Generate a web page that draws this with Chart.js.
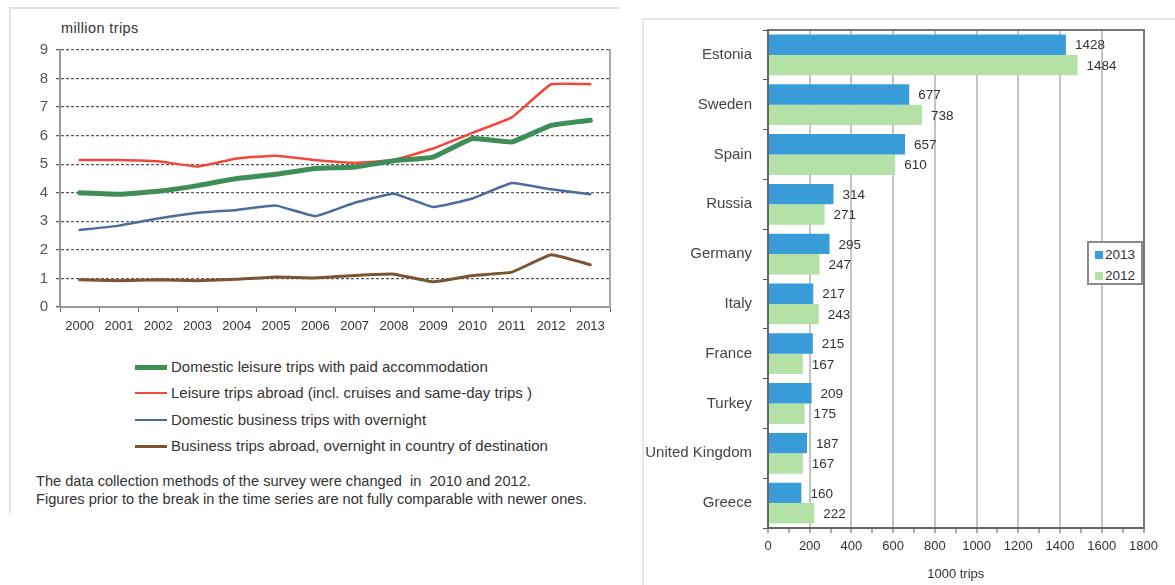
<!DOCTYPE html>
<html><head><meta charset="utf-8">
<script src="https://cdn.jsdelivr.net/npm/chart.js@4.4.1/dist/chart.umd.min.js"></script>
<style>
html,body{margin:0;padding:0;background:#fff}
body{width:1175px;height:585px;overflow:hidden;position:relative;font-family:"Liberation Sans",Arial,sans-serif;color:#333}
.abs{position:absolute}
.lrow{position:absolute;left:0;height:20px;white-space:nowrap;font-size:15px;line-height:20px;color:#333}
.lsw{position:absolute;left:0;top:10px;width:32px}
.ltx{position:absolute;left:36px;top:0}
.r2{position:absolute;left:6px;height:16px;font-size:13.5px;line-height:16px;color:#333;white-space:nowrap}
.r2 i{display:inline-block;width:8px;height:8px;margin-right:2px;vertical-align:0px}
</style></head><body>
<div class="abs" style="left:9px;top:7px;width:609px;height:504px;border-top:2px solid #e2e2e2;border-left:2px solid #e2e2e2"></div>
<div class="abs" style="left:642px;top:18px;width:533px;height:567px;border-top:2px solid #e8e8e8;border-left:2px solid #e8e8e8"></div>
<div id="unitTitle" class="abs" style="left:61px;top:20px;font-size:14.5px;letter-spacing:0.4px;color:#333"></div>
<div class="abs" style="left:0;top:0;width:625px;height:340px"><canvas id="c1"></canvas></div>
<div id="leg1" class="abs" style="left:135px;top:357px;width:480px;height:110px"></div>
<div id="note" class="abs" style="left:36px;top:472px;font-size:14.6px;line-height:18px;color:#333;white-space:nowrap"></div>
<div class="abs" style="left:640px;top:10px;width:535px;height:575px"><canvas id="c2"></canvas></div>
<div id="leg2" class="abs" style="left:1087px;top:241px;width:52px;height:40px;border:2px solid #8a8a8a;background:#fff"></div>
<script>
// ---------- Left chart data ----------
const years = ['2000','2001','2002','2003','2004','2005','2006','2007','2008','2009','2010','2011','2012','2013'];
const domesticLeisure  = [4.00,3.95,4.05,4.25,4.50,4.65,4.85,4.90,5.12,5.25,5.90,5.78,6.36,6.54];
const leisureAbroad    = [5.15,5.15,5.10,4.92,5.20,5.30,5.15,5.05,5.15,5.55,6.10,6.64,7.80,7.80];
const domesticBusiness = [2.70,2.85,3.10,3.30,3.40,3.55,3.18,3.65,3.97,3.50,3.80,4.34,4.12,3.95];
const businessAbroad   = [0.95,0.92,0.95,0.92,0.97,1.05,1.02,1.10,1.15,0.88,1.10,1.22,1.83,1.48];
const seriesNames = [
  'Domestic leisure trips with paid accommodation',
  'Leisure trips abroad (incl. cruises and same-day trips )',
  'Domestic business trips with overnight',
  'Business trips abroad, overnight in country of destination'
];
const seriesColors = ['#3f8e58','#f2483c','#4a6d9e','#7b5430'];
const seriesWidths = [5,2.5,2.5,3];
const yTickValues1 = [0,1,2,3,4,5,6,7,8,9];
const unitLabel = 'million trips';
const noteLines = [
  'The data collection methods of the survey were changed  in  2010 and 2012.',
  'Figures prior to the break in the time series are not fully comparable with newer ones.'
];

// ---------- Right chart data ----------
const countries = ['Estonia','Sweden','Spain','Russia','Germany','Italy','France','Turkey','United Kingdom','Greece'];
const trips2013 = [1428,677,657,314,295,217,215,209,187,160];
const trips2012 = [1484,738,610,271,247,243,167,175,167,222];
const barSeriesNames = ['2013','2012'];
const barColors = ['#389cd8','#b3e1a6'];
const xAxisTitle = '1000 trips';

document.getElementById('unitTitle').textContent = unitLabel;
document.getElementById('note').innerHTML = noteLines.map(t => '<div>' + t.replace(/  /g,' &nbsp;') + '</div>').join('');

// left legend (HTML)
const leg1 = document.getElementById('leg1');
const rowTops = [0, 26, 53, 79];
seriesNames.forEach((n, i) => {
  const r = document.createElement('div');
  r.className = 'lrow';
  r.style.top = rowTops[i] + 'px';
  const sw = document.createElement('div');
  sw.className = 'lsw';
  sw.style.borderTop = seriesWidths[i] + 'px solid ' + seriesColors[i];
  sw.style.marginTop = (-seriesWidths[i] / 2) + 'px';
  const tx = document.createElement('div');
  tx.className = 'ltx';
  tx.textContent = n;
  r.appendChild(sw); r.appendChild(tx);
  leg1.appendChild(r);
});

// right legend (HTML)
const leg2 = document.getElementById('leg2');
barSeriesNames.forEach((n, i) => {
  const r = document.createElement('div');
  r.className = 'r2';
  r.style.top = (4 + i * 21) + 'px';
  r.innerHTML = '<i style="background:' + barColors[i] + '"></i>' + n;
  leg2.appendChild(r);
});

const FONT = '"Liberation Sans", Arial, sans-serif';

new Chart(document.getElementById('c1'), {
  type: 'line',
  data: {
    labels: years,
    datasets: [domesticLeisure, leisureAbroad, domesticBusiness, businessAbroad].map((d, i) => ({
      label: seriesNames[i], data: d, borderColor: seriesColors[i], backgroundColor: seriesColors[i],
      borderWidth: seriesWidths[i], pointRadius: 0, tension: 0.1, fill: false,
      borderCapStyle: 'round', borderJoinStyle: 'round'
    }))
  },
  options: {
    responsive: true, maintainAspectRatio: false, animation: false,
    layout: { padding: { left: 0, right: 15, top: 50, bottom: 0 } },
    plugins: { legend: { display: false }, tooltip: { enabled: false } },
    scales: {
      x: {
        offset: true,
        grid: { offset: true, drawOnChartArea: false, tickLength: 5, color: '#666', lineWidth: 1 },
        border: { color: '#999', width: 2 },
        ticks: { font: { family: FONT, size: 13 }, color: '#333', padding: 7, maxRotation: 0, autoSkip: false },
        afterFit(s) { s.height = 33; }
      },
      y: {
        min: 0, max: 9,
        afterBuildTicks(s) { s.ticks = yTickValues1.map(v => ({ value: v })); },
        ticks: { font: { family: FONT, size: 15 }, color: '#555', padding: 8 },
        grid: { color: '#5a5a5a', lineWidth: 1.3, tickLength: 4, tickColor: '#666' },
        border: { color: '#999', width: 2, dash: [3, 2] },
        afterFit(s) { s.width = 60; }
      },
      y2: {
        position: 'right', display: true,
        grid: { display: false, drawTicks: false },
        ticks: { display: false },
        border: { color: '#aaa', width: 2 },
        afterFit(s) { s.width = 0; }
      }
    }
  }
});

const valueLabels = {
  id: 'valueLabels',
  afterDatasetsDraw(chart) {
    const ctx = chart.ctx;
    ctx.save();
    ctx.font = '13.5px ' + FONT;
    ctx.fillStyle = '#333';
    ctx.textBaseline = 'middle';
    ctx.textAlign = 'left';
    chart.data.datasets.forEach((ds, di) => {
      chart.getDatasetMeta(di).data.forEach((el, j) => {
        ctx.fillText(String(ds.data[j]), el.x + 9, el.y + 1);
      });
    });
    ctx.restore();
  }
};

new Chart(document.getElementById('c2'), {
  type: 'bar',
  data: {
    labels: countries,
    datasets: [
      { label: barSeriesNames[0], data: trips2013, backgroundColor: barColors[0], borderWidth: 0 },
      { label: barSeriesNames[1], data: trips2012, backgroundColor: barColors[1], borderWidth: 0 }
    ]
  },
  options: {
    indexAxis: 'y',
    responsive: true, maintainAspectRatio: false, animation: false,
    categoryPercentage: 0.82, barPercentage: 1.0,
    layout: { padding: { left: 0, right: 31.5, top: 15, bottom: 0 } },
    plugins: { legend: { display: false }, tooltip: { enabled: false } },
    scales: {
      x: {
        min: 0, max: 1800,
        afterBuildTicks(s) { const t = []; for (let v = 0; v <= 1800; v += 100) t.push({ value: v }); s.ticks = t; },
        ticks: {
          autoSkip: false, maxRotation: 0, padding: 6,
          font: { family: FONT, size: 13 }, color: '#333',
          callback: (v) => (v % 200 === 0 ? String(v) : '')
        },
        grid: {
          color: (c) => (c.tick && c.tick.value % 200 === 0 ? '#c4c4c4' : 'rgba(0,0,0,0)'),
          lineWidth: 2, tickColor: '#555', tickWidth: 1, tickLength: 5
        },
        border: { color: '#666', width: 2 },
        title: { display: true, text: xAxisTitle, font: { family: FONT, size: 13 }, color: '#333', padding: { top: 0, bottom: 3 } },
        afterFit(s) { s.height = 57; }
      },
      x2: {
        position: 'top', display: true, min: 0, max: 1800,
        grid: { display: false, drawTicks: false }, ticks: { display: false },
        border: { color: '#777', width: 2 },
        afterFit(s) { s.height = 0; }
      },
      y: {
        grid: { offset: true, drawOnChartArea: false, tickLength: 5, color: '#555', lineWidth: 1 },
        border: { color: '#666', width: 2 },
        ticks: { font: { family: FONT, size: 15 }, color: '#444', padding: 11, autoSkip: false },
        afterFit(s) { s.width = 128; }
      },
      y2: {
        position: 'right', display: true,
        grid: { display: false, drawTicks: false }, ticks: { display: false },
        border: { color: '#777', width: 2 },
        afterFit(s) { s.width = 0; }
      }
    }
  },
  plugins: [valueLabels]
});
</script>
</body></html>
